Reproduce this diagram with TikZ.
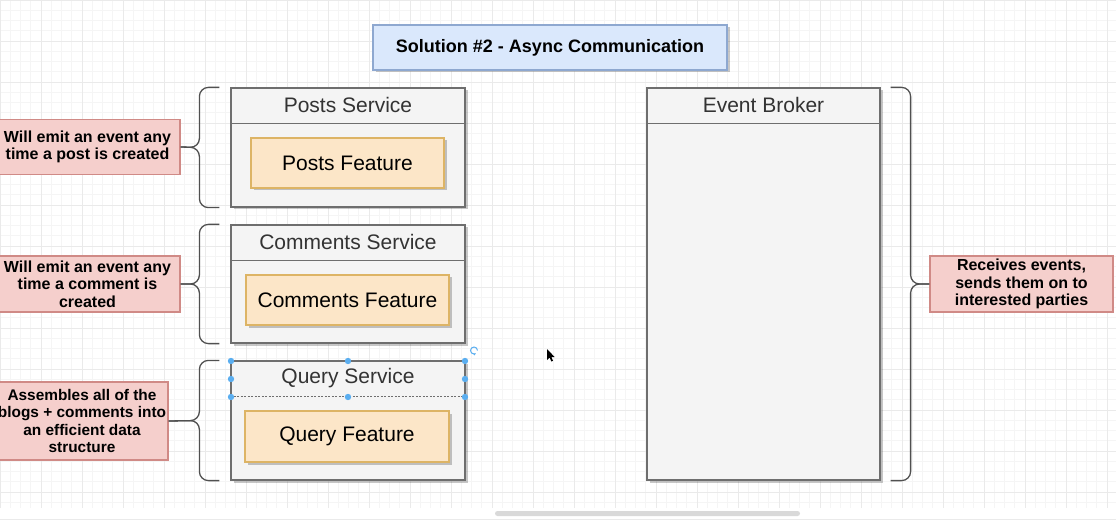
\documentclass[tikz,border=0pt]{standalone}
\usepackage{fontspec}
\setmainfont{Liberation Sans}
\usetikzlibrary{calc,arrows.meta}
\definecolor{blueFill}{HTML}{DAE8FC}
\definecolor{blueLine}{HTML}{8EA8D0}
\definecolor{grayFill}{HTML}{F4F4F4}
\definecolor{grayLine}{HTML}{6E6E6E}
\definecolor{textGray}{HTML}{333333}
\definecolor{orangeFill}{HTML}{FCE6C8}
\definecolor{orangeLine}{HTML}{DDB465}
\definecolor{pinkFill}{HTML}{F5CFCC}
\definecolor{pinkLine}{HTML}{D08A86}
\definecolor{braceGray}{HTML}{505050}
\definecolor{gridMinor}{HTML}{F5F5F5}
\definecolor{gridMajor}{HTML}{EAEAEA}
\definecolor{handleBlue}{HTML}{5AAEF0}
\begin{document}
\begin{tikzpicture}[x=1pt,y=-1pt,
  shadowed/.style={preaction={fill=black,opacity=0.22,transform canvas={xshift=2.5pt,yshift=-2.5pt}}},
  titlebox/.style={shadowed,draw=blueLine,fill=blueFill,line width=1.2pt,minimum width=354pt,minimum height=45pt,inner sep=0pt,font=\fontsize{18}{21}\selectfont\bfseries},
  container/.style={shadowed,draw=grayLine,fill=grayFill,line width=1.2pt,inner sep=0pt,minimum width=234pt},
  headline/.style={draw=grayLine,line width=1.2pt},
  header/.style={text=textGray,inner sep=0pt,font=\fontsize{21}{25}\selectfont},
  feature/.style={shadowed,draw=orangeLine,fill=orangeFill,line width=1.2pt,inner sep=0pt,minimum height=50pt,font=\fontsize{21}{25}\selectfont},
  note/.style={draw=pinkLine,fill=pinkFill,line width=1.2pt,inner sep=0pt,align=center,font=\fontsize{16}{17.5}\selectfont\bfseries},
  brace/.style={draw=braceGray,line width=1.3pt,rounded corners=9pt},
  handle/.style={fill=handleBlue,draw=none},
]
\useasboundingbox (0,0) rectangle (1116,521);
\fill[white] (0,0) rectangle (1116,521);
% grid
\foreach \i in {0,...,109} {\draw[gridMinor,line width=0.6pt] (\i*10.25,0) -- (\i*10.25,508);}
\foreach \j in {0,...,49} {\draw[gridMinor,line width=0.6pt] (0,\j*10.25) -- (1116,\j*10.25);}
\foreach \i in {0,...,27} {\draw[gridMajor,line width=0.7pt] (\i*41,0) -- (\i*41,508);}
\foreach \j in {0,...,12} {\draw[gridMajor,line width=0.7pt] (0,\j*41) -- (1116,\j*41);}
\fill[white] (0,508) rectangle (1116,521);
\draw[gridMajor,line width=0.8pt] (0,519) -- (1116,519);
\fill[black!15,rounded corners=2.5pt] (495,511) rectangle (800,516);

% title
\node[titlebox] (title) at (550,47.5) {Solution \#2 - Async Communication};

% posts service
\node[container,minimum height=119pt] (posts) at (348,147.5) {};
\draw[headline] ([yshift=-36pt]posts.north west) -- ([yshift=-36pt]posts.north east);
\node[header] (postsT) at ([yshift=-18pt]posts.north) {Posts Service};
\node[feature,minimum width=193pt] (postsF) at (347.5,163) {Posts Feature};

% comments service
\node[container,minimum height=118pt] (comments) at (348,284) {};
\draw[headline] ([yshift=-36pt]comments.north west) -- ([yshift=-36pt]comments.north east);
\node[header] (commentsT) at ([yshift=-18pt]comments.north) {Comments Service};
\node[feature,minimum width=203pt] (commentsF) at (347.5,300) {Comments Feature};

% query service
\node[container,minimum height=119pt] (query) at (348,420.5) {};
\draw[headline,line width=0.9pt,dash pattern=on 2pt off 1.5pt] ([yshift=-36pt]query.north west) -- ([yshift=-36pt]query.north east);
\node[header] (queryT) at ([yshift=-18pt]query.north) {Query Service};
\node[feature,minimum width=204pt,minimum height=51pt] (queryF) at (347,436.5) {Query Feature};

% event broker
\node[container,minimum width=233pt,minimum height=392pt] (broker) at (763.5,284) {};
\draw[headline] ([yshift=-36pt]broker.north west) -- ([yshift=-36pt]broker.north east);
\node[header] (brokerT) at ([yshift=-18pt]broker.north) {Event Broker};

% notes
\node[note,minimum width=185pt,minimum height=55pt] (pnote) at (87.5,147) {Will emit an event any\\time a post is created};
\node[note,minimum width=185pt,minimum height=56pt] (cnote) at (87.5,284) {Will emit an event any\\time a comment is\\created};
\node[note,minimum width=172pt,minimum height=78pt,font=\fontsize{15.4}{17.5}\selectfont\bfseries] (qnote) at (82,421) {Assembles all of the\\blogs + comments into\\an efficient data\\structure};
\node[note,minimum width=183pt,minimum height=56pt] (bnote) at (1021.5,284) {Receives events,\\sends them on to\\interested parties};

% braces
\draw[brace] ([xshift=-11pt]posts.north west) -- ([xshift=-31pt]posts.north west) -- ([xshift=-31pt]posts.west) -- (pnote.east);
\draw[brace] ([xshift=-11pt]posts.south west) -- ([xshift=-31pt]posts.south west) -- ([xshift=-31pt]posts.west) -- (pnote.east);
\draw[brace] ([xshift=-11pt]comments.north west) -- ([xshift=-31pt]comments.north west) -- ([xshift=-31pt]comments.west) -- (cnote.east);
\draw[brace] ([xshift=-11pt]comments.south west) -- ([xshift=-31pt]comments.south west) -- ([xshift=-31pt]comments.west) -- (cnote.east);
\draw[brace] ([xshift=-11pt]query.north west) -- ([xshift=-31pt]query.north west) -- ([xshift=-31pt]query.west) -- (qnote.east);
\draw[brace] ([xshift=-11pt]query.south west) -- ([xshift=-31pt]query.south west) -- ([xshift=-31pt]query.west) -- (qnote.east);
\draw[brace] ([xshift=10pt]broker.north east) -- ([xshift=30pt]broker.north east) -- ([xshift=30pt]broker.east) -- (bnote.west);
\draw[brace] ([xshift=10pt]broker.south east) -- ([xshift=30pt]broker.south east) -- ([xshift=30pt]broker.east) -- (bnote.west);

% selection handles on query header
\draw[grayLine,line width=0.9pt,dash pattern=on 2pt off 1.5pt] (query.north west) -- (query.north east);
\foreach \p in {(231,361),(348,361),(465,361),(231,379),(465,379),(231,397),(348,397),(465,397)} {\fill[handle] \p circle (3.2pt);}
\draw[handleBlue,line width=1pt,-{Stealth[length=2.5pt]}] (477.5,350.5) arc (0:300:3.5pt);
% cursor
\fill[black] (547,349) -- (547,360) -- (549.6,357.6) -- (551.4,361.5) -- (553,360.8) -- (551.3,357) -- (554.6,357) -- cycle;
\end{tikzpicture}
\end{document}
